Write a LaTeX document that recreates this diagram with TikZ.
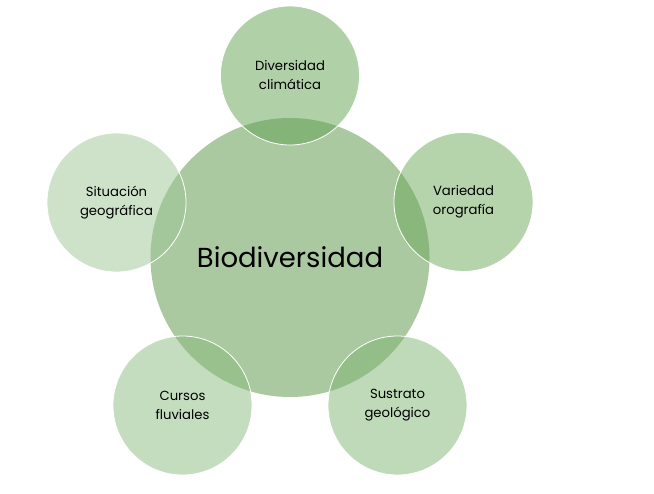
\documentclass[tikz,border=0pt]{standalone}
\usepackage{fontspec}
\setmainfont{Poppins}
\definecolor{bigc}{RGB}{171,201,160}
\definecolor{ctop}{RGB}{97,161,81}
\definecolor{cright}{RGB}{107,169,89}
\definecolor{cbr}{RGB}{127,181,113}
\definecolor{cbl}{RGB}{137,187,125}
\definecolor{cleft}{RGB}{157,197,149}
\tikzset{
  bigcircle/.style={circle, fill=bigc, minimum size=279pt, inner sep=0pt, font=\fontsize{27.5}{32}\selectfont, text=black},
  smallcircle/.style={circle, fill opacity=0.5, text opacity=1, draw=white, line width=0.8pt, minimum size=139pt, inner sep=0pt, align=center, font=\fontsize{13.2}{19}\selectfont, text=black},
}
\begin{document}
\begin{tikzpicture}[x=1pt,y=-1pt]
\useasboundingbox (0,0) rectangle (654,494);
\node[bigcircle] (bio) at (290,257.5) {Biodiversidad};
\node[smallcircle, fill=ctop] (clim) at (290,75.5) {Diversidad\\climática};
\node[smallcircle, fill=cright] (oro) at (463.5,202) {Variedad\\orografía};
\node[smallcircle, fill=cbr] (geo) at (397.5,405.5) {Sustrato\\geológico};
\node[smallcircle, fill=cbl] (flu) at (182.5,405.5) {Cursos\\fluviales};
\node[smallcircle, fill=cleft] (sit) at (116.5,202.5) {Situación\\geográfica};
\end{tikzpicture}
\end{document}
